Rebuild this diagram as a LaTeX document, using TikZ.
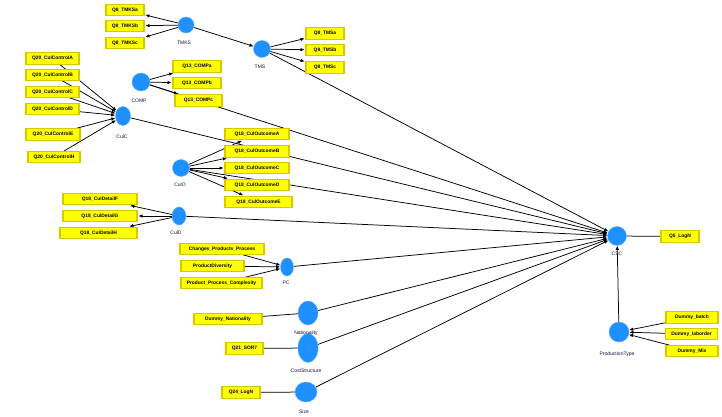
\documentclass[tikz,border=0pt]{standalone}
\usepackage{fontspec}
\setmainfont{Liberation Sans}
\usetikzlibrary{arrows.meta,shapes.geometric}
\pgfdeclarelayer{bg}
\pgfsetlayers{bg,main}
\definecolor{ybox}{RGB}{255,255,0}
\definecolor{yborder}{RGB}{215,200,0}
\definecolor{lvcol}{RGB}{30,144,255}
\definecolor{lblcol}{RGB}{20,20,60}
\begin{document}
\begin{tikzpicture}[x=1pt,y=-1pt,
  mv/.style={draw=yborder, line width=1.2pt, fill=ybox, minimum height=11.5pt,
    inner sep=0pt, text=black, font=\fontsize{4.9}{5}\selectfont\bfseries},
  lv/.style={ellipse, fill=lvcol, draw=lvcol!70!white, line width=0.4pt, inner sep=0pt},
  lvlabel/.style={text=lblcol, inner sep=0pt, font=\fontsize{5}{5}\selectfont},
  arr/.style={-{Latex[length=4.2pt,width=3.4pt]}, line width=0.75pt, black},
  arrb/.style={arr, shorten >=0.7pt},
  plain/.style={line width=0.75pt, black}]
\useasboundingbox (0,0) rectangle (722,417);

% ---------- indicator boxes ----------
\node[mv, minimum width=38pt] (q8ka) at (125,10) {Q8\_TMKSa};
\node[mv, minimum width=38pt] (q8kb) at (125,26) {Q8\_TMKSb};
\node[mv, minimum width=38pt] (q8kc) at (125,43) {Q8\_TMKSc};
\node[mv, minimum width=38pt] (q8sa) at (325,33.5) {Q8\_TMSa};
\node[mv, minimum width=38pt] (q8sb) at (325,50) {Q8\_TMSb};
\node[mv, minimum width=38pt] (q8sc) at (325,67.5) {Q8\_TMSc};
\node[mv, minimum width=48pt] (q13a) at (197,66.5) {Q13\_COMPa};
\node[mv, minimum width=48pt] (q13b) at (197,83) {Q13\_COMPb};
\node[mv, minimum width=47pt] (q13c) at (198.5,100.5) {Q13\_COMPc};
\node[mv, minimum width=53pt] (q20a) at (52.5,58.5) {Q20\_CulControlA};
\node[mv, minimum width=53pt] (q20b) at (52.5,75) {Q20\_CulControlB};
\node[mv, minimum width=53pt] (q20c) at (52.5,92) {Q20\_CulControlC};
\node[mv, minimum width=53pt] (q20d) at (52.5,109) {Q20\_CulControlD};
\node[mv, minimum width=54pt] (q20e) at (53,134.5) {Q20\_CulControlE};
\node[mv, minimum width=52pt] (q20h) at (54,157) {Q20\_CulControlH};
\node[mv, minimum width=64pt] (q18a) at (257,134) {Q18\_CulOutcomeA};
\node[mv, minimum width=64pt] (q18b) at (257,151.5) {Q18\_CulOutcomeB};
\node[mv, minimum width=64pt] (q18c) at (257,168) {Q18\_CulOutcomeC};
\node[mv, minimum width=64pt] (q18d) at (257,185) {Q18\_CulOutcomeD};
\node[mv, minimum width=67pt] (q18e) at (258.5,202) {Q18\_CulOutcomeE};
\node[mv, minimum width=74pt] (q18f) at (100,199) {Q18\_CulDetailF};
\node[mv, minimum width=74pt] (q18g) at (100,216) {Q18\_CulDetailG};
\node[mv, minimum width=77pt] (q18h) at (98.5,233) {Q18\_CulDetailH};
\node[mv, minimum width=84pt] (cpp) at (222,249) {Changes\_Products\_Process};
\node[mv, minimum width=63pt] (pd) at (212.5,266) {ProductDiversity};
\node[mv, minimum width=81pt] (ppc) at (221.5,283) {Product\_Process\_Complexity};
\node[mv, minimum width=68pt] (dnat) at (228,319) {Dummy\_Nationality};
\node[mv, minimum width=37pt] (q21) at (244.5,348.5) {Q21\_SOR7};
\node[mv, minimum width=38pt] (q24) at (241,392.5) {Q24\_LogN};
\node[mv, minimum width=38pt] (q5) at (680,236.5) {Q5\_LogN};
\node[mv, minimum width=52pt] (db) at (692,317.5) {Dummy\_batch};
\node[mv, minimum width=52pt] (dl) at (691.5,334) {Dummy\_laborder};
\node[mv, minimum width=52pt] (dm) at (692,351) {Dummy\_Mix};

% ---------- latent variables ----------
\node[lv, minimum width=16pt, minimum height=16pt] (TMKS) at (186,25) {};
\node[lv, minimum width=17pt, minimum height=17pt] (TMS) at (262,49) {};
\node[lv, minimum width=18pt, minimum height=18pt] (COMP) at (141,82) {};
\node[lv, minimum width=15pt, minimum height=19pt] (CulC) at (123,116) {};
\node[lv, minimum width=17pt, minimum height=17pt] (CulO) at (181,168) {};
\node[lv, minimum width=14pt, minimum height=18pt] (CulD) at (179,216) {};
\node[lv, minimum width=13pt, minimum height=18pt] (PC) at (287,267) {};
\node[lv, minimum width=20pt, minimum height=24pt] (Nat) at (308,313) {};
\node[lv, minimum width=20pt, minimum height=29pt] (Cost) at (308,348) {};
\node[lv, minimum width=22pt, minimum height=20pt] (Size) at (306,392) {};
\node[lv, minimum width=19pt, minimum height=19pt] (CSC) at (617,236) {};
\node[lv, minimum width=20pt, minimum height=20pt] (PT) at (619,332) {};

% ---------- labels ----------
\node[lvlabel] (lTMKS) at (184,43) {TMKS};
\node[lvlabel] (lTMS) at (260,67) {TMS};
\node[lvlabel] (lCOMP) at (139,101) {COMP};
\node[lvlabel] (lCulC) at (122,137) {CulC};
\node[lvlabel] (lCulO) at (180,185) {CulO};
\node[lvlabel] (lCulD) at (176,233) {CulD};
\node[lvlabel] (lPC) at (286,283) {PC};
\node[lvlabel] (lNat) at (306,333) {Nationality};
\node[lvlabel] (lCost) at (306,371) {CostStructure};
\node[lvlabel] (lSize) at (304,412) {Size};
\node[lvlabel] (lCSC) at (617,254) {CSC};
\node[lvlabel] (lPT) at (617,354) {ProductionType};

% ---------- connectors ----------
\begin{pgfonlayer}{bg}
\fill[white] (0,0) rectangle (722,417);
% reflective
\foreach \t in {q8ka,q8kb,q8kc} \draw[arrb] (TMKS) -- (\t);
\foreach \t in {q8sa,q8sb,q8sc} \draw[arrb] (TMS) -- (\t);
\foreach \t in {q13a,q13b,q13c} \draw[arrb] (COMP) -- (\t);
\foreach \t in {q18a,q18b,q18c,q18d,q18e} \draw[arrb] (CulO) -- (\t);
\foreach \t in {q18f,q18g,q18h} \draw[arrb] (CulD) -- (\t);
% formative
\foreach \s in {q20a,q20b,q20c,q20d,q20e,q20h} \draw[arr] (\s.center) -- (CulC);
\foreach \s in {cpp,pd,ppc} \draw[arr] (\s.center) -- (PC);
\foreach \s in {db,dl,dm} \draw[arr] (\s.center) -- (PT);
% single indicators
\draw[plain] (dnat) -- (Nat);
\draw[plain] (q21) -- (Cost);
\draw[plain] (q24) -- (Size);
\draw[plain] (q5) -- (CSC);
% structural
\draw[arr] (TMKS) -- (TMS);
\foreach \s in {TMS,COMP,CulC,CulO,CulD,PC,Nat,Cost,Size,PT} \draw[arr] (\s) -- (CSC);
\end{pgfonlayer}
\end{tikzpicture}
\end{document}
